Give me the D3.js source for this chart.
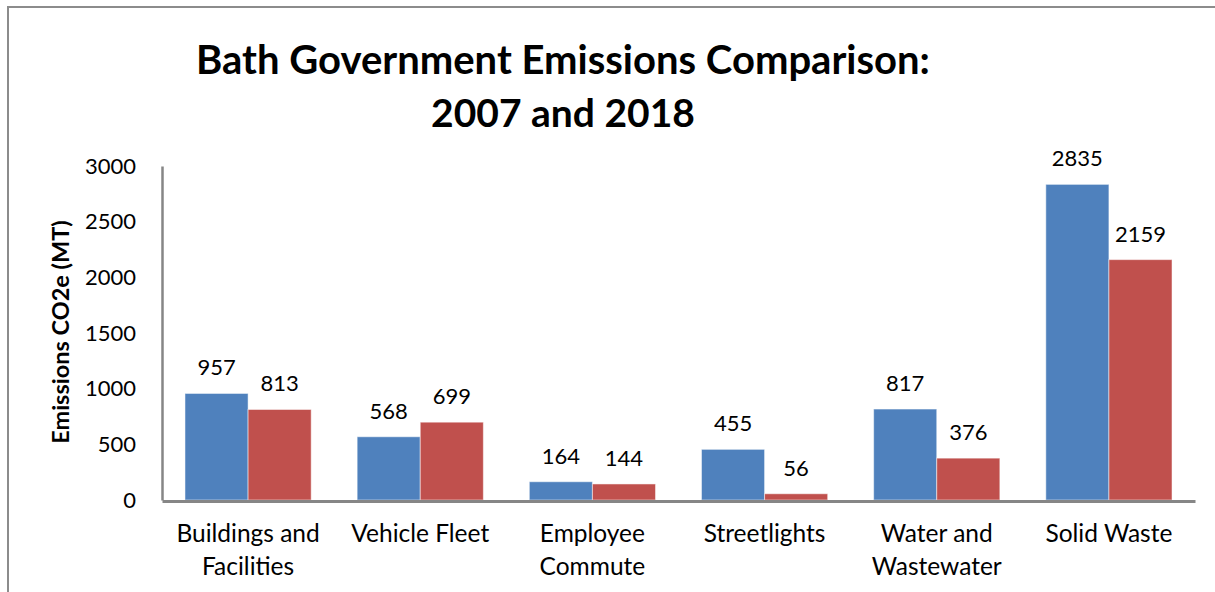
<!DOCTYPE html>
<html>
<head>
<meta charset="utf-8">
<script src="https://cdn.jsdelivr.net/npm/d3@7"></script>
<style>
  html, body { margin: 0; padding: 0; background: #fff; }
  svg { display: block; font-family: Lato, "Open Sans", sans-serif; }
</style>
</head>
<body>
<svg id="chart" width="1215" height="592"></svg>
<script>
const categories = [["Buildings and", "Facilities"], ["Vehicle Fleet"], ["Employee", "Commute"], ["Streetlights"], ["Water and", "Wastewater"], ["Solid Waste"]];
const series2007 = [957, 568, 164, 455, 817, 2835];
const series2018 = [813, 699, 144, 56, 376, 2159];
const seriesNames = ["2007", "2018"];
const seriesColors = ["#4F81BD", "#C0504D"];
const yTicks = [0, 500, 1000, 1500, 2000, 2500, 3000];
const titleLines = ["Bath Government Emissions Comparison:", "2007 and 2018"];
const yTitle = "Emissions CO2e (MT)";

(function () {
const svg = d3.select("#chart");

// outer frame
svg.append("rect").attr("x", 8).attr("y", 7).attr("width", 1230).attr("height", 600)
  .attr("fill", "#fff").attr("stroke", "#8c8c8c").attr("stroke-width", 2);

const pLeft = 162, pRight = 1195, pTop = 166, pBottom = 500;
const keys = categories.map((c, i) => i);

const x0 = d3.scaleBand().domain(keys).range([pLeft, pRight]).paddingInner(0.267).paddingOuter(0.1335);
const x1 = d3.scaleBand().domain([0, 1]).range([0, x0.bandwidth()]);
const y = d3.scaleLinear().domain([0, 3000]).range([pBottom, pTop]);

const data = keys.map(i => ({ i, values: [series2007[i], series2018[i]] }));

// bars
const g = svg.append("g");
const groups = g.selectAll("g.grp").data(data).join("g").attr("class", "grp")
  .attr("transform", d => `translate(${x0(d.i)},0)`);
groups.selectAll("rect").data(d => d.values.map((v, s) => ({ v, s }))).join("rect")
  .attr("x", d => x1(d.s)).attr("width", x1.bandwidth())
  .attr("y", d => y(d.v)).attr("height", d => y(0) - y(d.v))
  .attr("fill", d => seriesColors[d.s])
  .attr("stroke", "rgba(255,255,255,0.5)").attr("stroke-width", 1);
groups.selectAll("text").data(d => d.values.map((v, s) => ({ v, s }))).join("text")
  .attr("x", d => x1(d.s) + x1.bandwidth() / 2).attr("y", d => y(d.v) - 18)
  .attr("text-anchor", "middle").attr("font-size", 22).attr("fill", "#000")
  .text(d => d.v);

// y axis
const yAxis = d3.axisLeft(y).tickValues(yTicks).tickSize(0).tickPadding(26).tickFormat(d3.format("d"));
const ya = svg.append("g").attr("transform", `translate(${pLeft},0)`).call(yAxis);
ya.select(".domain").attr("stroke", "#868686").attr("stroke-width", 2.5);
ya.selectAll("text").attr("font-size", 22).attr("fill", "#000").attr("font-family", "Lato, sans-serif");

// x axis
const xa = svg.append("g").attr("transform", `translate(0,${pBottom + 1})`)
  .call(d3.axisBottom(x0).tickSize(0).tickFormat(() => ""));
xa.select(".domain").attr("stroke", "#868686").attr("stroke-width", 3);
xa.selectAll(".tick text").remove();
keys.forEach(i => {
  const cx = x0(i) + x0.bandwidth() / 2;
  const t = svg.append("text").attr("text-anchor", "middle").attr("font-size", 24.5).attr("fill", "#000");
  categories[i].forEach((line, k) => {
    t.append("tspan").attr("x", cx).attr("y", 542 + k * 33).text(line);
  });
});

// y title
svg.append("text").attr("transform", "translate(69,332) rotate(-90)")
  .attr("text-anchor", "middle").attr("font-size", 23.5).attr("font-weight", "bold")
  .text(yTitle);

// title
const titleSizes = [40, 39];
titleLines.forEach((line, k) => {
  svg.append("text").attr("x", 563).attr("y", 74 + k * 53)
    .attr("text-anchor", "middle").attr("font-size", titleSizes[k]).attr("font-weight", "bold")
    .text(line);
});
})();
</script>
</body>
</html>
